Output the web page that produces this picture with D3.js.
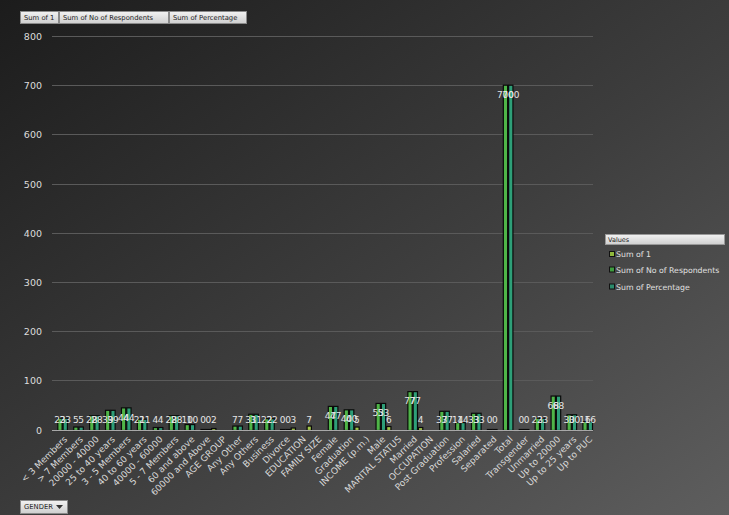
<!DOCTYPE html>
<html><head><meta charset="utf-8">
<script src="https://cdn.jsdelivr.net/npm/d3@7/dist/d3.min.js"></script>
<style>html,body{margin:0;padding:0;background:#333;}svg{display:block;}</style>
</head><body>
<script>
const categories = ["< 3 Members","> 7 Members","20000 - 40000","25 to 40 years","3 - 5 Members","40 to 60 years","40000 - 60000","5 - 7 Members","60 and above","60000 and Above","AGE GROUP","Any Other","Any Others","Business","Divorce","EDUCATION","FAMILY SIZE","Female","Graduation","INCOME (p.m.)","Male","MARITAL STATUS","Married","OCCUPATION","Post Graduation","Profession","Salaried","Separated","Total","Transgender","Unmarried","Up to 20000","Up to 25 years","Up to PUC"];
const sumOf1 =      [null,null,null,null,null,null,null,null,null,null,2,null,null,null,null,3,7,null,null,5,null,6,null,4,null,null,null,null,null,null,null,null,null,null];
const respondents = [23,5,28,39,44,21,4,28,10,0,null,7,31,22,0,null,null,47,40,null,53,null,77,null,37,14,33,0,700,0,23,68,30,16];
const percentage =  [23,5,28,39,44,21,4,28,10,0,null,7,31,22,0,null,null,47,40,null,53,null,77,null,37,14,33,0,700,0,23,68,30,16];
const seriesNames = ["Sum of 1","Sum of No of Respondents","Sum of Percentage"];
const yTicks = [0,100,200,300,400,500,600,700,800];

const W = 729, H = 515;
const colors = ["#a3c84a","#4fb548","#2e9f78"];
const legendColors = ["#8fb83c","#3f9c3f","#2b8a6c"];
const font = "DejaVu Sans, Verdana, sans-serif";

const svg = d3.select("body").append("svg").attr("width", W).attr("height", H);
const defs = svg.append("defs");
const bg = defs.append("linearGradient").attr("id","bg").attr("x1","0").attr("y1","0").attr("x2","1").attr("y2","1");
bg.append("stop").attr("offset","0").attr("stop-color","#1c1c1c");
bg.append("stop").attr("offset","0.55").attr("stop-color","#3e3e3e");
bg.append("stop").attr("offset","1").attr("stop-color","#5e5e5e");
const btn = defs.append("linearGradient").attr("id","btn").attr("x1","0").attr("y1","0").attr("x2","0").attr("y2","1");
btn.append("stop").attr("offset","0").attr("stop-color","#f2f2f2");
btn.append("stop").attr("offset","1").attr("stop-color","#cfcfcf");

svg.append("rect").attr("width", W).attr("height", H).attr("fill","url(#bg)");

const x = d3.scaleBand().domain(categories).range([52, 593]).padding(0);
const y = d3.scaleLinear().domain([0, 800]).range([430, 36.5]);

// gridlines
svg.append("g").selectAll("line").data(yTicks.filter(d => d > 0)).join("line")
  .attr("x1", 52).attr("x2", 593).attr("y1", d => y(d)).attr("y2", d => y(d))
  .attr("stroke", "#5a5a5a").attr("stroke-width", 1).attr("shape-rendering","crispEdges");

// y axis labels
const yAxis = d3.axisLeft(y).tickValues(yTicks).tickSize(0).tickPadding(8);
const gy = svg.append("g").attr("transform","translate(50,0)").call(yAxis);
gy.select(".domain").remove();
gy.selectAll("text").attr("fill","#dcdcdc").attr("font-family", font).attr("font-size", 9.5);

// bars
const series = [sumOf1, respondents, percentage];
const bw = x.bandwidth() / 3;
const barData = [];
series.forEach((arr, si) => arr.forEach((v, ci) => {
  if (v !== null) barData.push({si, cat: categories[ci], v});
}));
svg.append("g").selectAll("rect").data(barData).join("rect")
  .attr("x", d => x(d.cat) + d.si * bw + 0.5)
  .attr("y", d => y(d.v) - 0.5)
  .attr("width", bw - 1)
  .attr("height", d => Math.max(0, y(0) - y(d.v)) + 1)
  .attr("fill", d => colors[d.si])
  .attr("stroke", "#0a0a0a").attr("stroke-width", 1.2);

// x axis line
svg.append("line").attr("x1", 52).attr("x2", 593).attr("y1", y(0)).attr("y2", y(0))
  .attr("stroke", "#a8a8a8").attr("stroke-width", 1).attr("shape-rendering","crispEdges");

// data labels
svg.append("g").selectAll("text").data(barData).join("text")
  .attr("x", d => x(d.cat) + d.si * bw + bw / 2)
  .attr("y", d => Math.min(y(d.v) + 9, y(0) - 10))
  .attr("dy", "0.35em")
  .attr("text-anchor", "middle")
  .attr("fill", "#e6e6e6").attr("font-family", font).attr("font-size", 9)
  .text(d => d.v);

// x labels
const xAxis = d3.axisBottom(x).tickSize(0).tickPadding(0);
const gx = svg.append("g").attr("transform", `translate(0,${y(0)})`).call(xAxis);
gx.select(".domain").remove();
gx.selectAll("text")
  .attr("fill", "#d8d8d8").attr("font-family", font).attr("font-size", 9)
  .attr("text-anchor", "end")
  .attr("transform", "translate(4,6) rotate(-45)")
  .attr("dy", "0.6em").attr("y", 0);

// top field buttons
const topBtns = [
  {t: seriesNames[0], x0: 20, x1: 59},
  {t: seriesNames[1], x0: 59, x1: 169},
  {t: seriesNames[2], x0: 169, x1: 247}
];
const tb = svg.append("g");
topBtns.forEach(b => {
  tb.append("rect").attr("x", b.x0 + 0.5).attr("y", 11.5).attr("width", b.x1 - b.x0 - 1).attr("height", 12)
    .attr("fill", "url(#btn)").attr("stroke", "#8a8a8a");
  tb.append("text").attr("x", b.x0 + 4).attr("y", 18).attr("dy", "0.35em")
    .attr("font-family", font).attr("font-size", 6.8).attr("fill", "#222").text(b.t);
});

// GENDER button
const gb = svg.append("g");
gb.append("rect").attr("x", 20.5).attr("y", 500.5).attr("width", 47).attr("height", 13)
  .attr("fill", "url(#btn)").attr("stroke", "#8a8a8a");
gb.append("text").attr("x", 24).attr("y", 507).attr("dy", "0.35em")
  .attr("font-family", font).attr("font-size", 6.8).attr("fill", "#222").text("GENDER");
gb.append("path").attr("d", "M56,505 L63,505 L59.5,509 Z").attr("fill", "#333");

// legend
const lg = svg.append("g");
lg.append("rect").attr("x", 605.5).attr("y", 234.5).attr("width", 119).attr("height", 10)
  .attr("fill", "url(#btn)").attr("stroke", "#999");
lg.append("text").attr("x", 608).attr("y", 239.5).attr("dy", "0.35em")
  .attr("font-family", font).attr("font-size", 6.5).attr("fill", "#222").text("Values");
const ly = [254.5, 270, 287];
seriesNames.forEach((n, i) => {
  lg.append("rect").attr("x", 609.5).attr("y", ly[i] - 3).attr("width", 5).attr("height", 5)
    .attr("fill", legendColors[i]).attr("stroke", "#111");
  lg.append("text").attr("x", 616).attr("y", ly[i]).attr("dy", "0.35em")
    .attr("font-family", font).attr("font-size", 7.8).attr("fill", "#e0e0e0").text(n);
});
</script>
</body></html>
